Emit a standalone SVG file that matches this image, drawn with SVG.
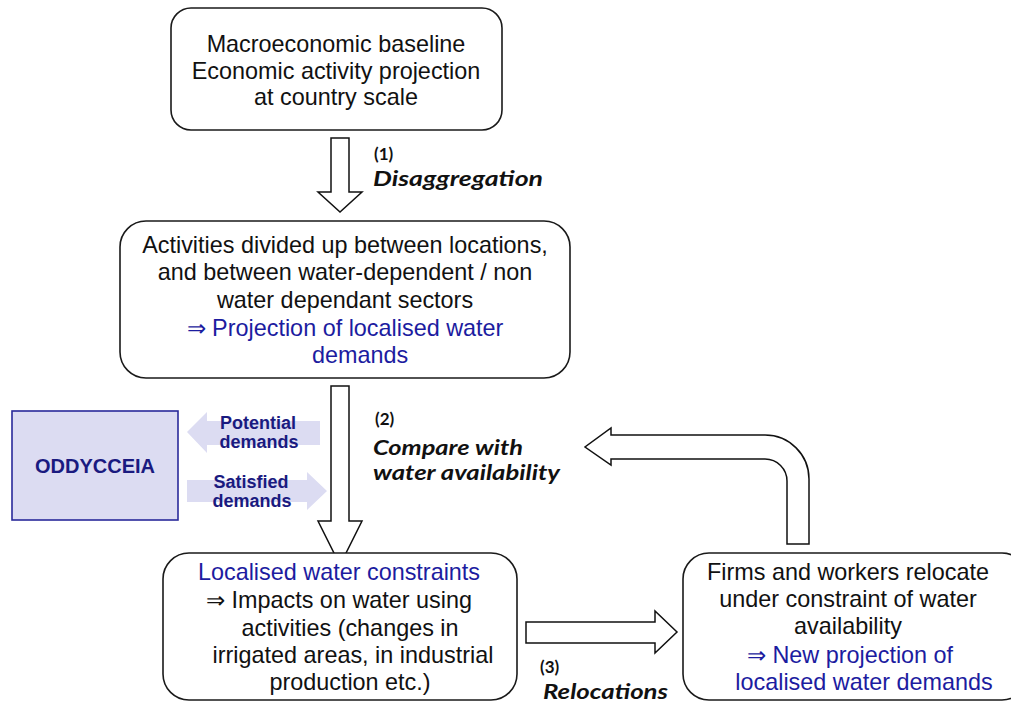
<svg xmlns="http://www.w3.org/2000/svg" width="1011" height="702" viewBox="0 0 1011 702">
<style>
.box{fill:#fff;stroke:#1a1a1a;stroke-width:1.6}
.t{font-family:"Liberation Sans",Arial,sans-serif;font-size:23.4px;fill:#111;text-anchor:middle}
.b{fill:#1c1ca0}
.arr{fill:#fff;stroke:#111;stroke-width:1.5;stroke-linejoin:miter}
.lab{font-family:Lato,"Open Sans",sans-serif;font-weight:bold;fill:#111}
.li{font-style:italic;font-size:21px}
.ln{font-size:17px}
.la{fill:#dcdcf2;stroke:none}
.lt{font-family:"Liberation Sans",Arial,sans-serif;font-weight:bold;font-size:18px;fill:#1a1a80;text-anchor:middle}
</style>
<g id="connectors">
<path class="arr" d="M331,138 H349 V192 H362 L340,212 L318,192 H331 Z"/>
<path class="arr" d="M331,386 H349 V521 H362 L340,565 L318,521 H331 Z"/>
<path class="arr" d="M526,622 H655 V611 L677,632 L655,653 V643 H526 Z"/>
<path class="arr" d="M787,544 V481 A22,22 0 0 0 765,459 H611 V465 L585,447 L611,428 V435 H765 A44,44 0 0 1 809,479 V544 Z"/>
<path class="la" d="M187,432 L207,412 V421 H320 V445 H207 V453 Z"/>
<path class="la" d="M187,480 H307 V472 L327,491 L307,510 V502 H187 Z"/>
</g>
<g id="labels">
<text class="lab ln" x="374" y="160">(1)</text>
<text class="lab li" x="373" y="186" textLength="170" lengthAdjust="spacingAndGlyphs">Disaggregation</text>
<text class="lab ln" x="375" y="425">(2)</text>
<text class="lab li" x="373" y="455" textLength="150" lengthAdjust="spacingAndGlyphs">Compare with</text>
<text class="lab li" x="373" y="480" textLength="187" lengthAdjust="spacingAndGlyphs">water availability</text>
<text class="lab ln" x="540" y="673">(3)</text>
<text class="lab li" x="543" y="699" textLength="125" lengthAdjust="spacingAndGlyphs">Relocations</text>
<text class="lt" x="258" y="429">Potential</text>
<text class="lt" x="259" y="448">demands</text>
<text class="lt" x="251" y="488">Satisfied</text>
<text class="lt" x="252" y="507">demands</text>
</g>
<g id="n1">
<rect class="box" x="171" y="8" width="331" height="122" rx="20"/>
<text class="t" x="336" y="52">Macroeconomic baseline</text>
<text class="t" x="336" y="79">Economic activity projection</text>
<text class="t" x="336" y="105">at country scale</text>
</g>
<g id="n2">
<rect class="box" x="120" y="221" width="450" height="157" rx="26"/>
<text class="t" x="345" y="253">Activities divided up between locations,</text>
<text class="t" x="345" y="280">and between water-dependent / non</text>
<text class="t" x="345" y="308">water dependant sectors</text>
<text class="t b" x="345" y="336">⇒ Projection of localised water</text>
<text class="t b" x="360" y="363">demands</text>
</g>
<g id="n3">
<rect x="12" y="411" width="166" height="109" fill="#dcdcf2" stroke="#2a2a9a" stroke-width="1.6"/>
<text x="95" y="473" font-family="Liberation Sans,Arial,sans-serif" font-weight="bold" font-size="20" fill="#1a1a80" text-anchor="middle">ODDYCCEIA</text>
</g>
<g id="n4">
<rect class="box" x="163" y="553" width="354" height="147" rx="26"/>
<text class="t b" x="339" y="580">Localised water constraints</text>
<text class="t" x="339" y="608">⇒ Impacts on water using</text>
<text class="t" x="350" y="636">activities (changes in</text>
<text class="t" x="353" y="663">irrigated areas, in industrial</text>
<text class="t" x="350" y="690">production etc.)</text>
</g>
<g id="n5">
<rect class="box" x="683" y="553" width="345" height="147" rx="26"/>
<text class="t" x="848" y="580">Firms and workers relocate</text>
<text class="t" x="848" y="607">under constraint of water</text>
<text class="t" x="848" y="634">availability</text>
<text class="t b" x="850" y="663">⇒ New projection of</text>
<text class="t b" x="864" y="690">localised water demands</text>
</g>
</svg>
